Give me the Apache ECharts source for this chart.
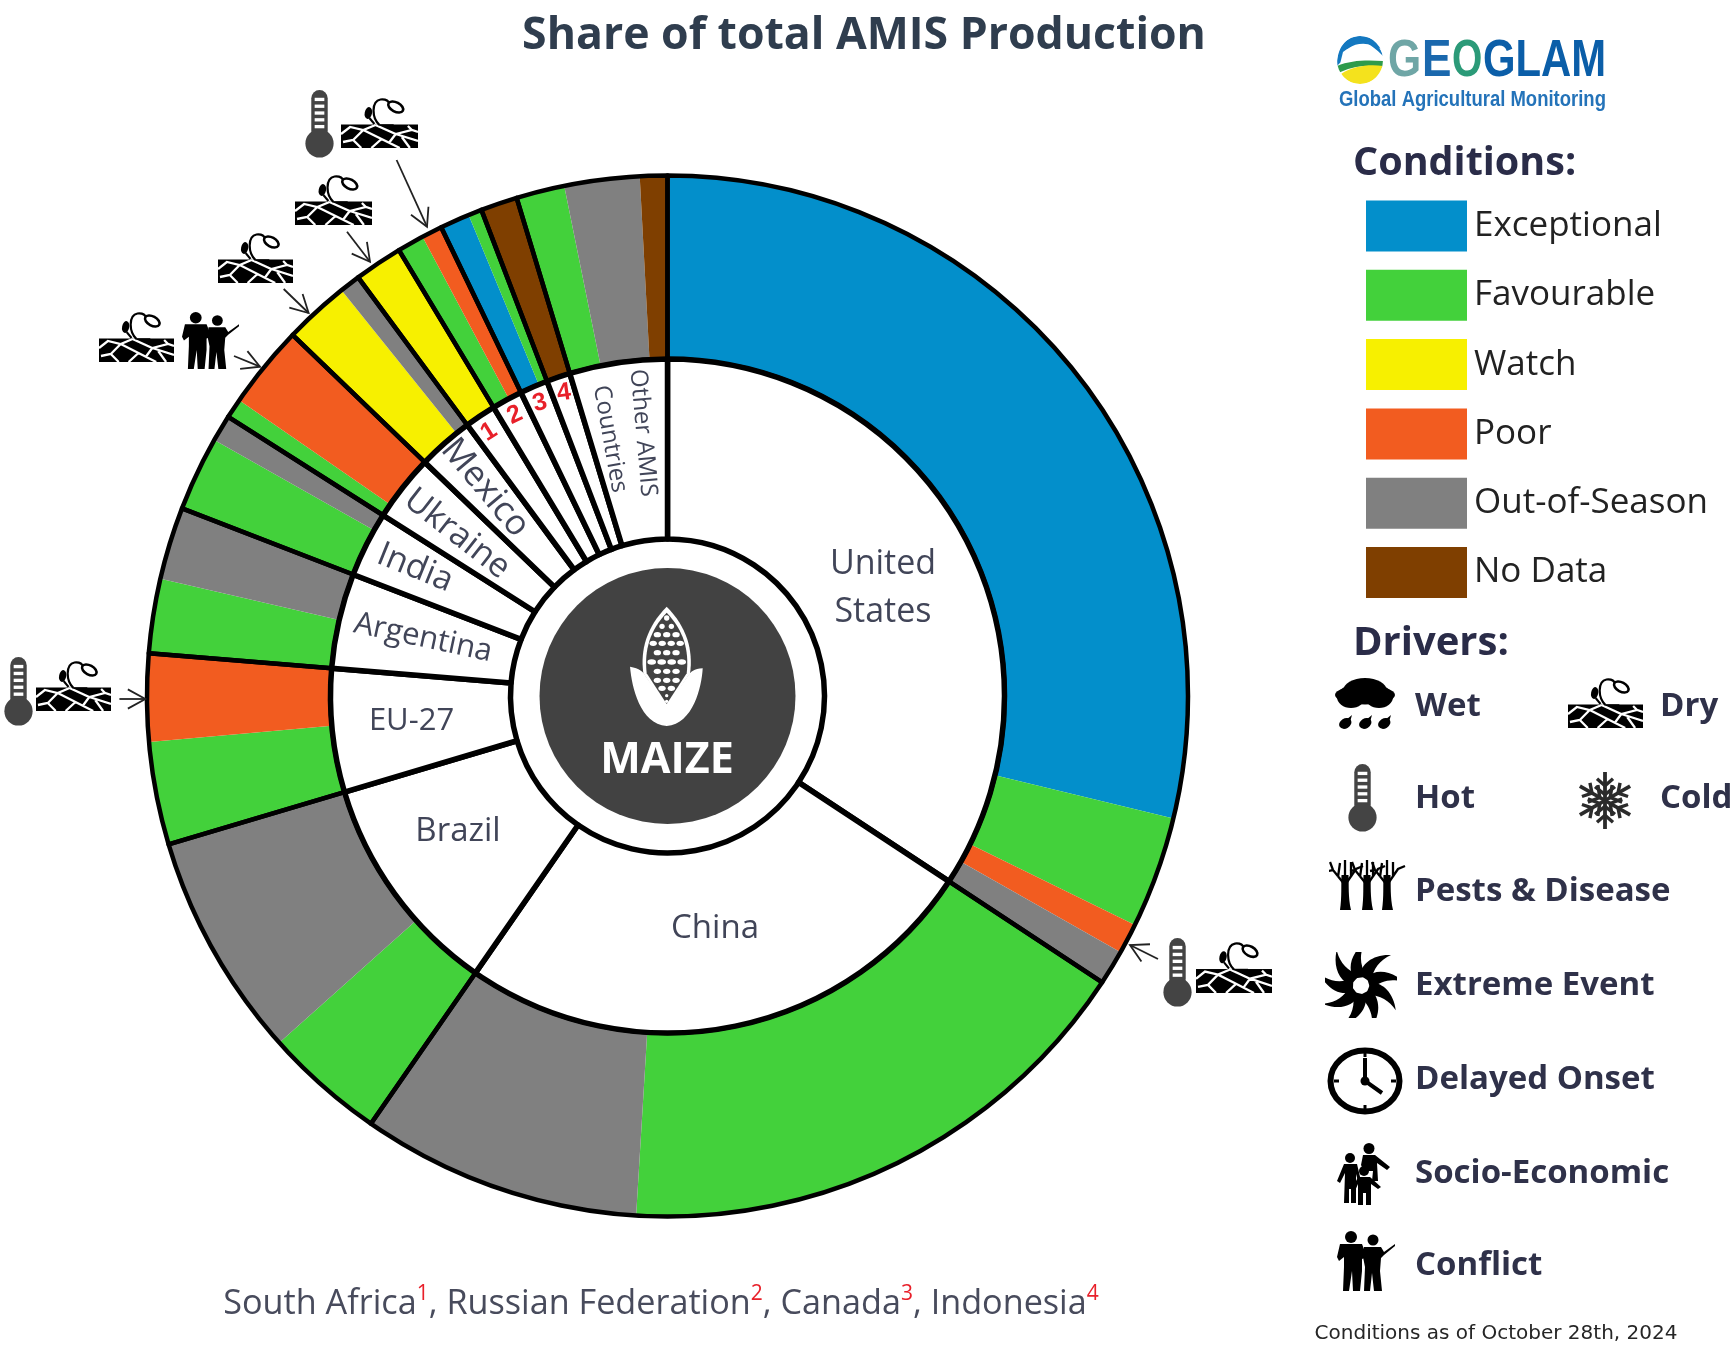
<!DOCTYPE html>
<html>
<head>
<meta charset="utf-8">
<style>html,body{margin:0;padding:0;background:#fff}#c{width:1730px;height:1350px}</style>
<script src="https://cdn.jsdelivr.net/npm/echarts@6/dist/echarts.min.js"></script>
</head>
<body>
<div id="c"></div>
<script>
// ---------- data: share of total AMIS production (percent) ----------
const conditionNames = ['Exceptional','Favourable','Watch','Poor','Out-of-Season','No Data'];
const conditionColors = ['#038fcb','#43d13b','#f7f000','#f25c20','#808080','#7f3f00'];
const countryNames = ['United States','China','Brazil','EU-27','Argentina','India','Ukraine','Mexico','South Africa','Russian Federation','Canada','Indonesia','Other AMIS Countries'];
const unitedStates = [['Exceptional',28.78],['Favourable',3.47],['Poor',0.94],['Out-of-Season',1.08]];
const china = [['Favourable',16.69],['Out-of-Season',8.69]];
const brazil = [['Favourable',3.75],['Out-of-Season',7.00]];
const eu27 = [['Favourable',3.19],['Poor',2.72]];
const argentina = [['Favourable',2.31],['Out-of-Season',2.25]];
const india = [['Favourable',2.31],['Out-of-Season',0.83]];
const ukraine = [['Favourable',0.61],['Poor',2.58]];
const mexico = [['Watch',2.03],['Out-of-Season',0.64]];
const southAfrica = [['Watch',1.50]];
const russia = [['Favourable',0.83],['Poor',0.64]];
const canada = [['Exceptional',0.92],['Favourable',0.42]];
const indonesia = [['No Data',1.14]];
const otherAmis = [['Favourable',1.50],['Out-of-Season',2.33],['No Data',0.85]];
const byCountry = [unitedStates,china,brazil,eu27,argentina,india,ukraine,mexico,southAfrica,russia,canada,indonesia,otherAmis];

// ---------- derived series ----------
const colorOf = n => conditionColors[conditionNames.indexOf(n)];
const conditionData = byCountry.flat().map(([name,value]) => ({name,value,itemStyle:{color:colorOf(name)}}));
const countryData = countryNames.map((name,i) => ({name,value:byCountry[i].reduce((s,d)=>s+d[1],0)}));

// ---------- layout ----------
const CX = 667.5, CY = 696, R_OUT = 520.5, R_MID = 337, R_IN = 157, R_CORE = 128;
const INK = '#414558', FONT = '"Open Sans"';

function txt(text,x,y,o){o=o||{};
  return {type:'text',z:20,x,y,rotation:-(o.rot||0)*Math.PI/180,scaleX:o.sx||1,scaleY:o.sy||1,
    style:{text,x:0,y:0,fill:o.color||INK,font:(o.weight||'normal')+' '+(o.size||32)+'px '+(o.font||FONT),
      textAlign:o.align||'center',textVerticalAlign:'middle',verticalAlign:'middle',rich:o.rich,lineHeight:o.lh}};
}
function svgUri(vb,body){return 'data:image/svg+xml;utf8,'+encodeURIComponent('<svg xmlns="http://www.w3.org/2000/svg" viewBox="'+vb+'">'+body+'</svg>');}
function img(uri,x,y,width,height){return {type:'image',z:20,style:{image:uri,x,y,width,height}};}
function arrow(x1,y1,x2,y2){
  const a=Math.atan2(y2-y1,x2-x1),L=20,s=0.5,st={stroke:'#222',lineWidth:1.8,fill:'none'};
  return {type:'polyline',z:20,shape:{points:[[x2-L*Math.cos(a-s),y2-L*Math.sin(a-s)],[x2,y2],[x2-L*Math.cos(a+s),y2-L*Math.sin(a+s)]]},style:st};
}
function shaft(x1,y1,x2,y2){return {type:'line',z:20,shape:{x1,y1,x2,y2},style:{stroke:'#222',lineWidth:1.8}};}

// ---------- icons ----------
const rep=(n,f)=>Array.from({length:n},(_,i)=>f(i)).join('');
const ICON = {
  hot: svgUri('0 0 30 70','<rect x="6.5" y="0" width="17" height="50" rx="8.5" fill="#444"/><circle cx="15" cy="55" r="14.6" fill="#444"/>'+rep(5,i=>'<rect x="10" y="'+(8+i*7)+'" width="10" height="3.4" fill="#fff"/>')),
  dry: svgUri('0 0 76 50','<rect x="0" y="26.5" width="76" height="23.5" fill="#000"/><path d="M0 36L9 29L22 32L34 27M22 32L12 42L2 44M12 42L20 50M22 32L40 41L58 50M40 41L30 50M34 27L54 36L70 32L76 34M54 36L48 44M70 32L66 28M54 36L76 43M60 39L68 50" stroke="#fff" stroke-width="2.3" fill="none"/><path d="M38 27C30 20 30 3 39 1.5C44 1 47 3 48 6" stroke="#000" stroke-width="2.2" fill="none"/><path d="M38 27L52 27" stroke="#000" stroke-width="1.5"/><ellipse cx="54" cy="9" rx="8" ry="4.6" transform="rotate(28 54 9)" fill="#fff" stroke="#000" stroke-width="2.6"/><ellipse cx="27" cy="15" rx="3.6" ry="6" transform="rotate(12 27 15)" fill="#000"/><path d="M28 20L33 26" stroke="#000" stroke-width="2"/>'),
  wet: svgUri('0 0 60 52','<ellipse cx="30" cy="17" rx="30" ry="9.5"/><ellipse cx="30" cy="13" rx="22" ry="13"/><ellipse cx="16" cy="19" rx="14" ry="11"/><ellipse cx="44" cy="19" rx="14" ry="11"/>'+[10,30,49].map(x=>'<ellipse cx="'+x+'" cy="45.5" rx="6.5" ry="5" transform="rotate(-32 '+x+' 45)"/><path d="M'+(x+1)+' 42L'+(x+7)+' 37L'+(x+5)+' 44Z"/>').join('')),
  cold: svgUri('0 0 60 60',rep(6,i=>'<g transform="rotate('+(i*60)+' 30 30)" stroke="#2b2b2b" fill="none"><path d="M30 30V1" stroke-width="3.8"/><path d="M22 8L30 15L38 8M20 16L30 24L40 16" stroke-width="3.4"/></g>')),
  pests: svgUri('0 0 77 55',[16,38,58].map(x=>'<path d="M'+(x-5)+' 53C'+(x-3)+' 40 '+(x-4)+' 28 '+(x-3.5)+' 18H'+(x+3.5)+'C'+(x+4)+' 28 '+(x+3)+' 40 '+(x+6)+' 53Z"/><path d="M'+x+' 28L'+(x-12)+' 13L'+(x-17)+' 14M'+(x-7)+' 20L'+(x-5)+' 6M'+x+' 26L'+x+' 3M'+x+' 28L'+(x+11)+' 12L'+(x+18)+' 9M'+(x+6)+' 20L'+(x+6)+' 5M'+(x-12)+' 13L'+(x-15)+' 5" stroke="#000" stroke-width="2.3" fill="none"/>').join('')),
  extreme: svgUri('0 0 72 65',rep(9,i=>'<path transform="rotate('+(i*40)+' 36 33) " d="M35 23C36 12 48 2 66 3C55 8 48 16 46 30Z" />')+'<circle cx="36" cy="33" r="6" fill="#fff"/>'),
  clock: svgUri('0 0 76 68','<ellipse cx="38" cy="34" rx="34.5" ry="30.5" fill="#fff" stroke="#000" stroke-width="6"/><path d="M38 11V34L55 46" stroke="#000" stroke-width="4" fill="none"/><circle cx="38" cy="34" r="4.5"/><path d="M38 5V10M38 58V63M7 34H12M64 34H69" stroke="#000" stroke-width="3"/>'),
  socio: svgUri('0 0 54 63','<circle cx="32" cy="5.5" r="5.5"/><path d="M26 12H38L53 24L50 27L40 20L41 38H35L36 28H27L24 22Z"/><circle cx="13" cy="15" r="5"/><path d="M7 21H20L24 38H21L19 31V60H14V46H12V60H7L8 30L3 40L0 38Z"/><circle cx="27" cy="28" r="5"/><path d="M21 34H33L44 44L41 46L34 41V62H29V50H26V62H21V41L17 50L14 48Z"/>'),
  conflict: svgUri('0 0 58 61','<circle cx="14" cy="6" r="6"/><path d="M3 13H25L30 26L25 28V40L23 60H16L15 40L12 60H6L7 36V26L2 30L0 26Z"/><circle cx="36" cy="9" r="5.5"/><path d="M27 16H44L47 21L58 13L58.5 14.5L47 24L44 27L43 40L45 60H37L35 42L33 60H27L28 36L26 26Z"/>'),
  globe: svgUri('0 0 46 48','<defs><clipPath id="k"><ellipse cx="23" cy="24" rx="23" ry="24"/></clipPath></defs><g clip-path="url(#k)"><rect width="46" height="48" fill="#fff"/><path d="M0 30C0 8 12 0 23 0C34 0 42 6 46 14C34 6 20 6 12 12C8 16 8 20 14 22C8 24 3 26 0 30Z" fill="#1478c0"/><path d="M6 16C16 8 30 8 44 17C34 14 22 14 16 20C24 22 34 22 46 22L46 26C30 24 14 26 2 32Z" fill="#fff"/><path d="M0 30C14 24 30 24 46 25L46 32C32 28 14 30 0 38Z" fill="#2e9b4b"/><path d="M4 38C16 30 32 28 46 30C44 42 32 48 23 48C14 48 8 44 4 38Z" fill="#f4e21d"/><path d="M32 2C38 6 44 12 46 20C40 14 34 8 24 5Z" fill="#1478c0"/></g>'),
  corn: svgUri('440 315 240 365','<path d="M560 320C500 380 480 450 490 520L560 625L630 520C640 450 620 380 560 320Z" fill="#fff"/><path d="M560 338C510 390 492 450 500 520L560 612L620 520C628 450 610 390 560 338Z" fill="#424242"/>'+
    [[354,1],[379,2],[404,3],[430,4],[458,3],[486,4],[514,3],[541,3],[565,2],[587,1],[604,1]].map(([y,n],r)=>{const sp=n===4?r===5?30:27:28;const rx=r===5?13:(r>8?5:r<2?8:11);return rep(n,i=>'<ellipse cx="'+(560+(i-(n-1)/2)*sp)+'" cy="'+y+'" rx="'+rx+'" ry="'+(r>8?5:8)+'" fill="#fff"/>');}).join('')+
    '<path d="M450 500C478 505 490 515 498 530L560 618L622 530C632 515 642 506 668 505C665 560 640 672 560 678C480 672 455 560 450 500Z" fill="#fff"/>')
};

// ---------- annotations ----------
const RED = '#e8202a', NUM = '"Liberation Sans"';
const countryLabels = [
  ['United',883,564,{size:34}],['States',883,612,{size:34}],
  ['China',715,929,{size:33}],['Brazil',458,832,{size:33}],['EU-27',411.5,721,{size:31}],
  ['Argentina',423,638,{size:31,rot:12}],['India',415,568,{size:34,rot:22}],
  ['Ukraine',457,534,{size:34,rot:38}],['Mexico',485,488,{size:35,rot:50}],
  ['Other AMIS',643,433,{size:24,rot:85}],['Countries',610,439,{size:24,rot:80}],
  ['1',489,432,{size:25,weight:'bold',color:RED,rot:-32,font:NUM}],
  ['2',515,415,{size:25,weight:'bold',color:RED,rot:-25,font:NUM}],
  ['3',540,403,{size:25,weight:'bold',color:RED,rot:-15,font:NUM}],
  ['4',564,393,{size:25,weight:'bold',color:RED,rot:-8,font:NUM}]
];
const driverLabels = [['Wet',1415,707],['Dry',1660,707],['Hot',1415,799],['Cold',1660,799],['Pests & Disease',1415,892],['Extreme Event',1415,986],['Delayed Onset',1415,1080],['Socio-Economic',1415,1174],['Conflict',1415,1266]];

const graphics = [
  // centre
  img(ICON.corn,626.7,605,80,121.7),
  txt('MAIZE',667,761,{size:43,weight:'bold',color:'#fff'}),
  ...countryLabels.map(([t,x,y,o])=>txt(t,x,y,o)),
  // footnote
  txt('South Africa{s|1}, Russian Federation{s|2}, Canada{s|3}, Indonesia{s|4}',661,1304,{size:34.2,color:'#484b5c',
     rich:{s:{fill:RED,font:'normal 21px "Open Sans"',verticalAlign:'top',lineHeight:40,padding:[0,0,14,0]}}}),
  // headings
  txt('Conditions:',1353,164,{size:39.5,weight:'bold',color:'#2a2c48',align:'left'}),
  txt('Drivers:',1353,644,{size:40,weight:'bold',color:'#2a2c48',align:'left'}),
  ...driverLabels.map(([t,x,y])=>txt(t,x,y,{size:33,weight:'bold',color:'#2f3149',align:'left'})),
  txt('Conditions as of October 28th, 2024',1496,1333.5,{size:20,color:'#262626',font:'"DejaVu Sans"'}),
  // logo
  img(ICON.globe,1337,36,46,48),
  txt('G',1388,62,{size:52,weight:'bold',color:'#6fa6a6',font:'"Liberation Sans"',align:'left',sx:0.82}),
  txt('E',1422,62,{size:52,weight:'bold',color:'#1a68ad',font:'"Liberation Sans"',align:'left',sx:0.85}),
  txt('O',1452,62,{size:52,weight:'bold',color:'#2b9a78',font:'"Liberation Sans"',align:'left',sx:0.75}),
  txt('GLAM',1483,62,{size:51,weight:'bold',color:'#0b5ea8',font:'"Liberation Sans"',align:'left',sx:0.82}),
  txt('Global Agricultural Monitoring',1339,100,{size:22,weight:'bold',color:'#2473b9',font:'"Liberation Sans"',align:'left',sx:0.84}),
  // legend driver icons
  img(ICON.wet,1335,678,60,52),img(ICON.dry,1568,678,75,50),img(ICON.hot,1348,764,29,68),img(ICON.cold,1575,771,60,59),
  img(ICON.pests,1329,857,77,55),img(ICON.extreme,1325,952,72,66),img(ICON.clock,1327,1047,76,68),img(ICON.socio,1337,1143,54,63),img(ICON.conflict,1337,1231,58,61),
  // callouts
  img(ICON.hot,305,90,29,68),img(ICON.dry,341,98,77,50),shaft(396.6,160,427,226.7),arrow(396.6,160,427,226.7),
  img(ICON.dry,295,175,77,50),shaft(347,231.7,370,261.7),arrow(347,231.7,370,261.7),
  img(ICON.dry,218,233,75,50),shaft(283.7,289,308.6,313),arrow(283.7,289,308.6,313),
  img(ICON.dry,99,312,75,50),img(ICON.conflict,182,312,57,58),shaft(234,356,260,366.7),arrow(234,356,260,366.7),
  img(ICON.hot,4,657,29,69),img(ICON.dry,36,661,75,50),shaft(119.4,699,145.4,699),arrow(119.4,699,145.4,699),
  img(ICON.hot,1163,938,29,69),img(ICON.dry,1196,942,76,51),shaft(1158,959,1130,945),arrow(1158,959,1130,945)
];

const pieBase = {type:'pie',center:[CX,CY],startAngle:90,clockwise:true,silent:true,animation:false,
  avoidLabelOverlap:false,label:{show:false},labelLine:{show:false},emphasis:{disabled:true}};

const option = {
  backgroundColor:'#fff',
  animation:false,
  title:{text:'Share of total AMIS Production',left:859,top:9,textAlign:'center',
    textStyle:{fontFamily:FONT,fontSize:44.6,fontWeight:'bold',color:'#2f3d4e'}},
  legend:{show:true,orient:'vertical',left:1361,top:195.5,itemWidth:101,itemHeight:51,itemGap:18.3,
    selectedMode:false,icon:'rect',data:conditionNames,textStyle:{fontFamily:FONT,fontSize:35,color:'#222',padding:[4,0,0,2]}},
  series:[
    {...pieBase,name:'Conditions',radius:[R_MID,R_OUT],data:conditionData,itemStyle:{borderWidth:0},z:2},
    {...pieBase,name:'Country outline',radius:[R_MID,R_OUT],data:countryData,z:3,
      itemStyle:{color:'rgba(0,0,0,0)',borderColor:'#000',borderWidth:4.5}},
    {...pieBase,name:'Countries',radius:[R_IN,R_MID],data:countryData,z:3,
      itemStyle:{color:'#fff',borderColor:'#000',borderWidth:5.5}},
    {...pieBase,name:'Maize',radius:[0,R_CORE],data:[{name:'Maize',value:1}],z:4,itemStyle:{color:'#424242',borderWidth:0}}
  ],
  graphic:{elements:graphics}
};
const chart = echarts.init(document.getElementById('c'),null,{renderer:'canvas',width:1730,height:1350});
chart.setOption(option);
</script>
</body>
</html>
